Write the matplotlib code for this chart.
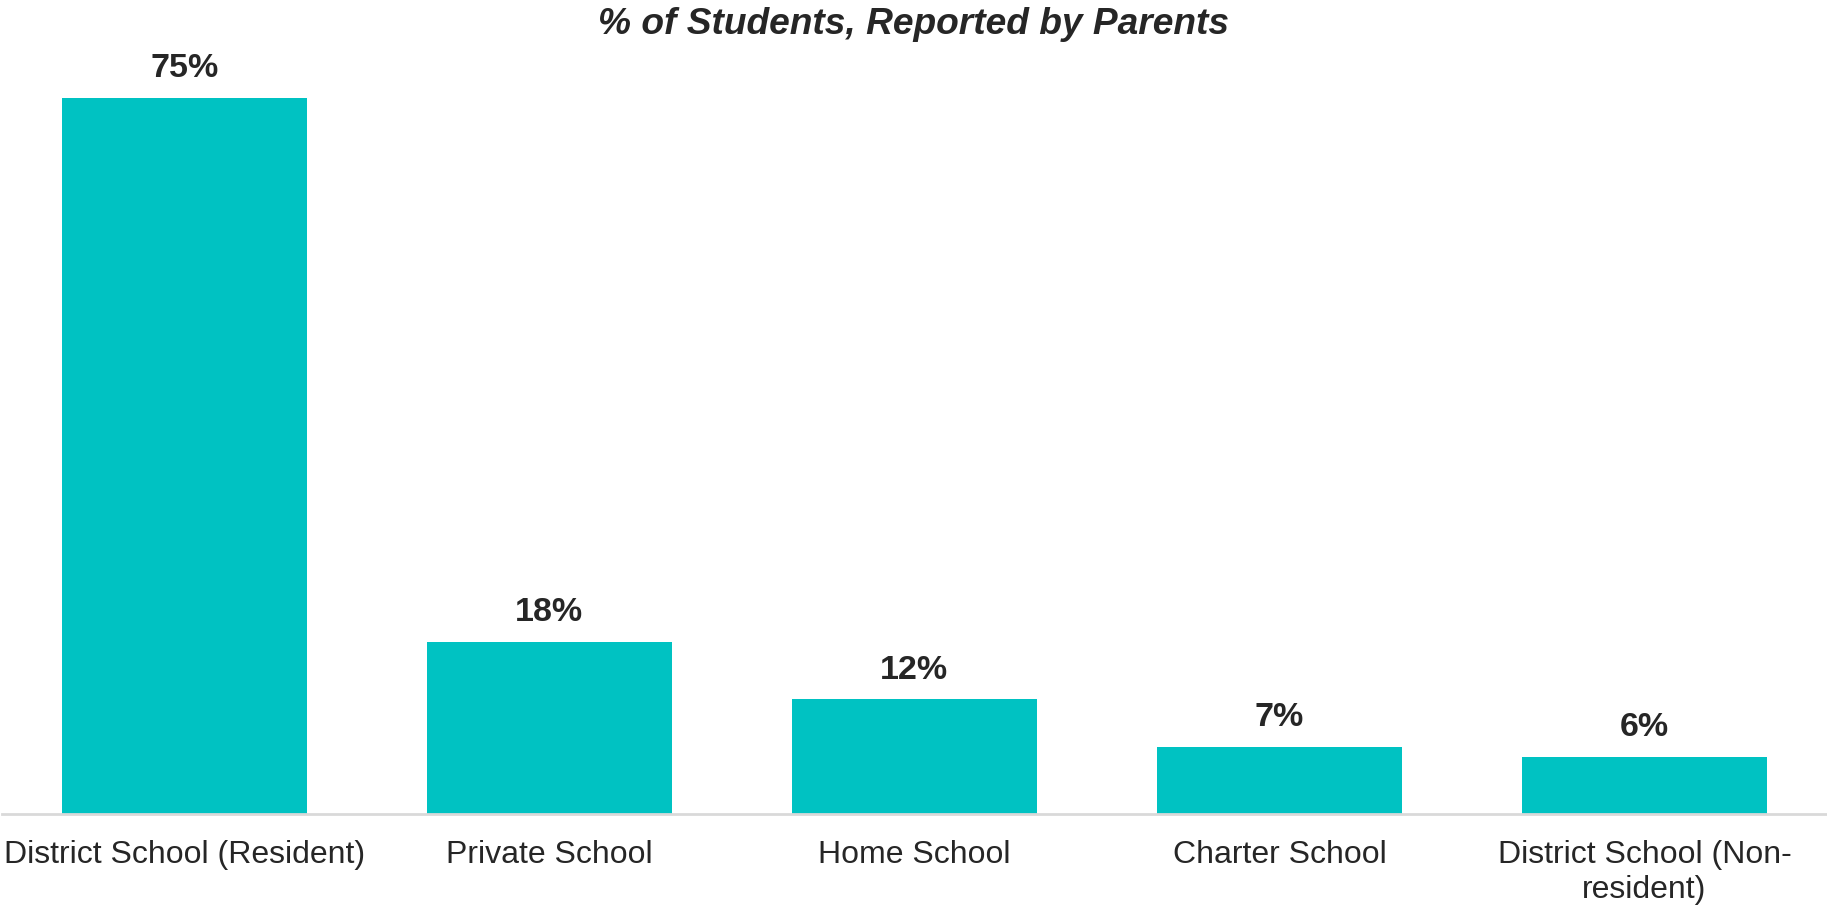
import matplotlib.pyplot as plt
import numpy as np

plt.rcParams['font.family'] = ['Liberation Sans', 'DejaVu Sans']

categories = ['District School (Resident)', 'Private School', 'Home School',
              'Charter School', 'District School (Non-\nresident)']
values = [75, 18, 12, 7, 6]
title = '% of Students, Reported by Parents'

bar_color = '#00C2C2'
text_color = '#262626'

fig = plt.figure(figsize=[18.27, 9.05], dpi=100)
ax = fig.add_axes([0.001, 0.1006, 0.999, 0.8331])

x = np.arange(len(categories))
ax.bar(x, values, width=0.67, color=bar_color)

for xi, v in zip(x, values):
    ax.annotate('%d%%' % v, (xi, v), xytext=(0, 10), textcoords='offset points',
                ha='center', va='bottom', fontsize=24.5, fontweight='bold',
                color=text_color)

ax.set_xlim(-0.5, len(categories) - 0.5)
ax.set_ylim(0, 79)
ax.set_xticks(x)
ax.set_xticklabels(categories, fontsize=23, color=text_color, linespacing=1.22)
ax.tick_params(axis='x', length=0, pad=19)
ax.set_yticks([])

for side in ['left', 'right', 'top']:
    ax.spines[side].set_visible(False)
ax.spines['bottom'].set_color('#D9D9D9')
ax.spines['bottom'].set_linewidth(2)

fig.text(0.5, 1 - 34 / 905, title, ha='center', va='baseline', fontsize=26.7,
         fontweight='bold', fontstyle='italic', color=text_color)

fig.savefig('out.png', dpi=100)
